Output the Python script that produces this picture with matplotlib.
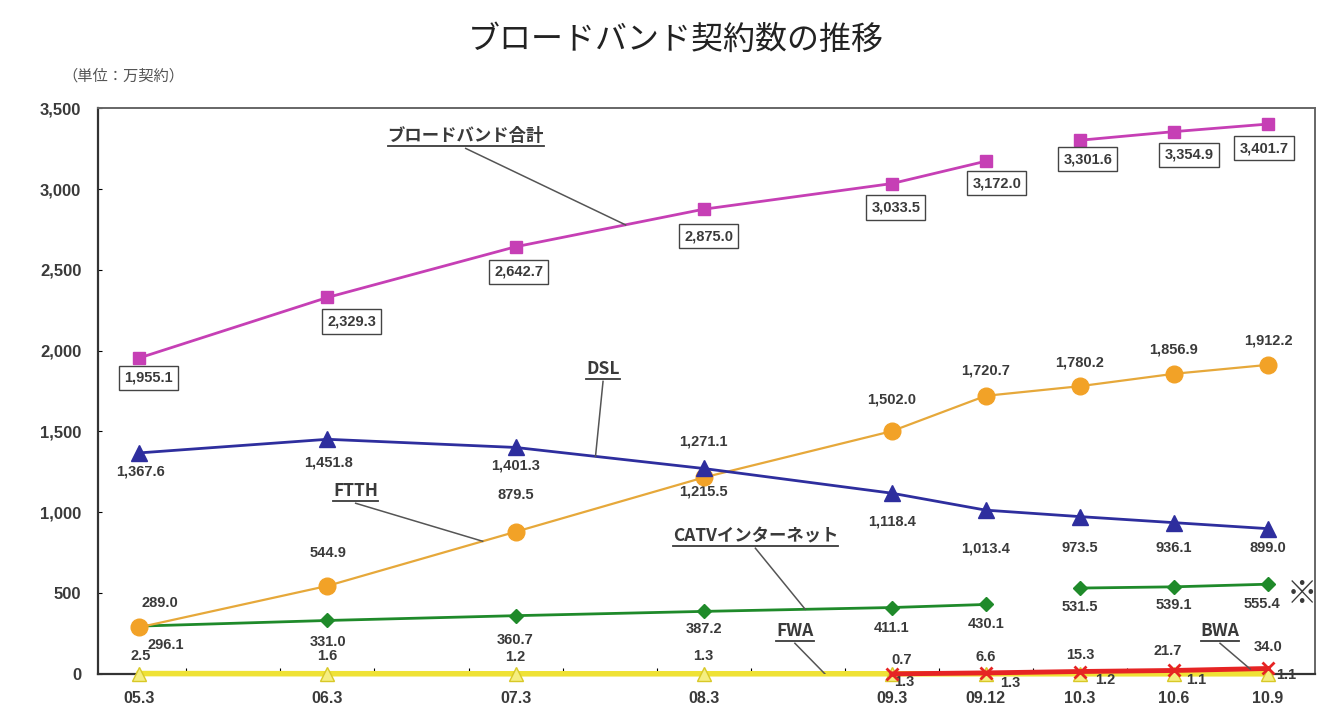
import matplotlib.pyplot as plt
import numpy as np
from matplotlib.ticker import FuncFormatter

plt.rcParams['font.family'] = ['Noto Sans CJK JP', 'DejaVu Sans']

# --- DATA ---
periods = ['05.3', '06.3', '07.3', '08.3', '09.3', '09.12', '10.3', '10.6', '10.9']
# category slots: annual points are two slots apart, quarterly points one apart
slots = [0, 2, 4, 6, 8, 9, 10, 11, 12]

total = [1955.1, 2329.3, 2642.7, 2875.0, 3033.5, 3172.0, 3301.6, 3354.9, 3401.7]
dsl = [1367.6, 1451.8, 1401.3, 1271.1, 1118.4, 1013.4, 973.5, 936.1, 899.0]
ftth = [289.0, 544.9, 879.5, 1215.5, 1502.0, 1720.7, 1780.2, 1856.9, 1912.2]
catv = [296.1, 331.0, 360.7, 387.2, 411.1, 430.1, 531.5, 539.1, 555.4]
fwa = [2.5, 1.6, 1.2, 1.3, 1.3, 1.3, 1.2, 1.1, 1.1]
bwa = [np.nan, np.nan, np.nan, np.nan, 0.7, 6.6, 15.3, 21.7, 34.0]

# series break between 09.12 and 10.3 (definition change, marked with ※)
break_after = 5

# --- COLOURS ---
C_TOTAL = '#C63FB5'
C_DSL = '#2E2E9E'
C_FTTH = '#F2A227'
C_FTTH_LINE = '#E6A83A'
C_CATV = '#1F8A2A'
C_FWA = '#EFE236'
C_BWA = '#E62424'
C_TEXT = '#3a3a3a'

fig = plt.figure(figsize=(13.33, 7.07), dpi=100)
ax = fig.add_axes([0.0735, 0.0467, 0.913, 0.8003])

x = np.array(slots, dtype=float)


def plot_split(vals, **kw):
    v = np.array(vals, dtype=float)
    ax.plot(x[:break_after + 1], v[:break_after + 1], **kw)
    ax.plot(x[break_after + 1:], v[break_after + 1:], **kw)


ax.plot(x, fwa, color=C_FWA, lw=4, marker='^', ms=10, mfc='#F5EE80', mec='#D8C828',
        zorder=3, clip_on=False)
ax.plot(x, bwa, color=C_BWA, lw=3.5, marker='x', ms=8, mew=2, zorder=4, clip_on=False)
plot_split(catv, color=C_CATV, lw=2, marker='D', ms=7, zorder=5)
ax.plot(x, ftth, color=C_FTTH_LINE, lw=1.6, marker='o', ms=12, mfc=C_FTTH, mec=C_FTTH, zorder=5)
ax.plot(x, dsl, color=C_DSL, lw=2, marker='^', ms=11, zorder=6)
plot_split(total, color=C_TOTAL, lw=2, marker='s', ms=8, zorder=6)

# --- VALUE LABELS (offsets in pixels) ---
num_font = dict(fontsize=10.5, color=C_TEXT, family='Liberation Sans', fontweight='bold')

total_off = [(9, -20), (24, -24), (3, -25), (5, -27), (4, -24), (11, -22), (8, -19), (15, -23), (-4, -24)]
for xi, v, off in zip(x, total, total_off):
    ax.annotate(f'{v:,.1f}', (xi, v), xytext=off, textcoords='offset pixels',
                ha='center', va='center', zorder=8,
                bbox=dict(boxstyle='square,pad=0.35', fc='white', ec='#444444', lw=1), **num_font)

dsl_off = [(1, -19), (1, -23), (0, -18), (0, 27), (0, -28), (0, -38), (0, -31), (0, -25), (0, -19)]
for xi, v, off in zip(x, dsl, dsl_off):
    ax.annotate(f'{v:,.1f}', (xi, v), xytext=off, textcoords='offset pixels',
                ha='center', va='center', **num_font)

ftth_off = [(21, 24), (1, 33), (0, 37), (0, -14), (0, 32), (0, 25), (0, 24), (0, 24), (0, 24)]
for xi, v, off in zip(x, ftth, ftth_off):
    ax.annotate(f'{v:,.1f}', (xi, v), xytext=off, textcoords='offset pixels',
                ha='center', va='center', **num_font)

catv_off = [(26, -19), (1, -22), (0, -24), (0, -18), (0, -20), (0, -20), (0, -19), (0, -18), (-6, -20)]
for xi, v, off in zip(x, catv, catv_off):
    ax.annotate(f'{v:,.1f}', (xi, v), xytext=off, textcoords='offset pixels',
                ha='center', va='center', **num_font)

fwa_off = [(1, 18), (0, 18), (0, 17), (0, 18), (12, -8), (24, -9), (25, -6), (22, -6), (18, -1)]
for xi, v, off in zip(x, fwa, fwa_off):
    ax.annotate(f'{v:,.1f}', (xi, v), xytext=off, textcoords='offset pixels',
                ha='center', va='center', **num_font)

bwa_off = [None, None, None, None, (10, 14), (0, 16), (0, 17), (-6, 19), (0, 21)]
for xi, v, off in zip(x, bwa, bwa_off):
    if off is None:
        continue
    ax.annotate(f'{v:,.1f}', (xi, v), xytext=off, textcoords='offset pixels',
                ha='center', va='center', **num_font)

# --- SERIES NAME CALLOUTS ---
callouts = [
    ('ブロードバンド合計', (3.47, 3271), (5.17, 2778)),
    ('DSL', (4.93, 1830), (4.85, 1346)),
    ('FTTH', (2.30, 1076), (3.65, 821)),
    ('CATVインターネット', (6.55, 798), (7.08, 400)),
    ('FWA', (6.97, 210), (7.29, 0)),
    ('BWA', (11.49, 210), (11.81, 31)),
]
name_texts = []
for name, txt_xy, tip in callouts:
    t = ax.text(txt_xy[0], txt_xy[1], name, ha='center', va='bottom', fontsize=12.5,
                fontweight='bold', color=C_TEXT, zorder=9)
    name_texts.append(t)
    ax.plot([txt_xy[0], tip[0]], [txt_xy[1] - 20, tip[1]], color='#555555', lw=1.1, zorder=7)

ax.text(12.36, 500, '※', ha='center', va='center', fontsize=22, color=C_TEXT)

# --- AXES ---
ax.set_xlim(-0.44, 12.5)
ax.set_ylim(0, 3500)

ax.set_yticks(np.arange(0, 3501, 500))
ax.yaxis.set_major_formatter(FuncFormatter(lambda v, p: f'{v:,.0f}'))
ax.tick_params(axis='y', direction='in', length=3, labelsize=12, labelcolor=C_TEXT, pad=12)

ax.set_xticks(np.arange(0.5, 12, 1))
ax.set_xticklabels([])
ax.set_xticks(slots, minor=True)
ax.set_xticklabels(periods, minor=True)
ax.tick_params(axis='x', which='major', direction='in', length=4)
ax.tick_params(axis='x', which='minor', length=0, labelsize=11.5, labelcolor=C_TEXT, pad=12)

for side in ['left', 'bottom']:
    ax.spines[side].set_color('#333333')
    ax.spines[side].set_linewidth(1.6)
for side in ['top', 'right']:
    ax.spines[side].set_color('#666666')
    ax.spines[side].set_linewidth(1.4)

for lbl in ax.get_xticklabels(minor=True) + ax.get_yticklabels():
    lbl.set_family('Liberation Sans')
    lbl.set_fontweight('bold')

fig.text(0.507, 0.943, 'ブロードバンド契約数の推移', ha='center', va='center', fontsize=23, color='#222222')
fig.text(0.047, 0.893, '（単位：万契約）', ha='left', va='center', fontsize=11, color='#555555')

# underline the series names
fig.canvas.draw()
renderer = fig.canvas.get_renderer()
inv = ax.transData.inverted()
for t in name_texts:
    bb = t.get_window_extent(renderer)
    (x0, y0), (x1, _) = inv.transform([(bb.x0, bb.y0), (bb.x1, bb.y1)])
    ax.plot([x0, x1], [y0 - 5, y0 - 5], color=C_TEXT, lw=1.3, zorder=9)

fig.savefig('out.png', dpi=100, facecolor='white')
